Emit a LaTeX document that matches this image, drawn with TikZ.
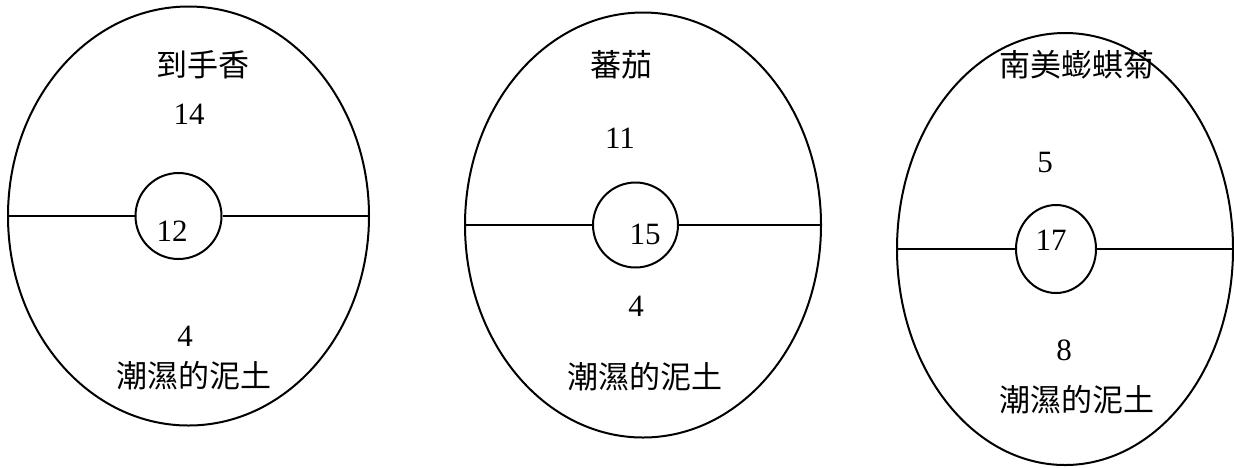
\documentclass[tikz,border=0pt]{standalone}
\usepackage{fontspec}
\setmainfont{Liberation Serif}
\newfontfamily\cjk{Noto Sans CJK TC}
\usetikzlibrary{shapes.geometric}
\begin{document}
\begin{tikzpicture}[x=0.5pt,y=-0.5pt,
  outer/.style={draw,ellipse,line width=1pt,inner sep=0pt},
  core/.style={draw,ellipse,line width=1pt,inner sep=0pt,fill=white},
  link/.style={line width=1pt},
  lbl/.style={inner sep=0pt,font=\fontsize{15.5pt}{18pt}\selectfont},
  cn/.style={inner sep=0pt,font=\fontsize{15.5pt}{18pt}\selectfont\cjk}]
\useasboundingbox (0,0) rectangle (1234,467);
% ellipse 1
\node[outer,minimum width=180.5pt,minimum height=209.5pt] (e1) at (188.5,216) {};
\node[core,minimum width=43pt,minimum height=43pt] (c1) at (178.5,216) {};
\draw[link] (e1.west) -- (c1.west);
\draw[link] (c1.east) -- (e1.east);
\node[cn] (n1) at (203,65) {到手香};
\node[lbl] (a1) at (189,114) {14};
\node[lbl] (m1) at (172,231) {12};
\node[lbl] (b1) at (185,336) {4};
\node[cn] (s1) at (194,376) {潮濕的泥土};
% ellipse 2
\node[outer,minimum width=178pt,minimum height=212.5pt] (e2) at (643,225) {};
\node[core,minimum width=42.5pt,minimum height=42.5pt] (c2) at (635.5,225) {};
\draw[link] (e2.west) -- (c2.west);
\draw[link] (c2.east) -- (e2.east);
\node[cn] (n2) at (621,65) {蕃茄};
\node[lbl] (a2) at (620,138) {11};
\node[lbl] (m2) at (645,234) {15};
\node[lbl] (b2) at (636,306) {4};
\node[cn] (s2) at (645,377) {潮濕的泥土};
% ellipse 3
\node[outer,minimum width=168pt,minimum height=216pt] (e3) at (1065,249) {};
\node[core,minimum width=40pt,minimum height=44pt] (c3) at (1056,249) {};
\draw[link] (e3.west) -- (c3.west);
\draw[link] (c3.east) -- (e3.east);
\node[cn] (n3) at (1077,65) {南美蟛蜞菊};
\node[lbl] (a3) at (1045,162) {5};
\node[lbl] (m3) at (1051,240) {17};
\node[lbl] (b3) at (1064,350) {8};
\node[cn] (s3) at (1077,400) {潮濕的泥土};
\end{tikzpicture}
\end{document}
